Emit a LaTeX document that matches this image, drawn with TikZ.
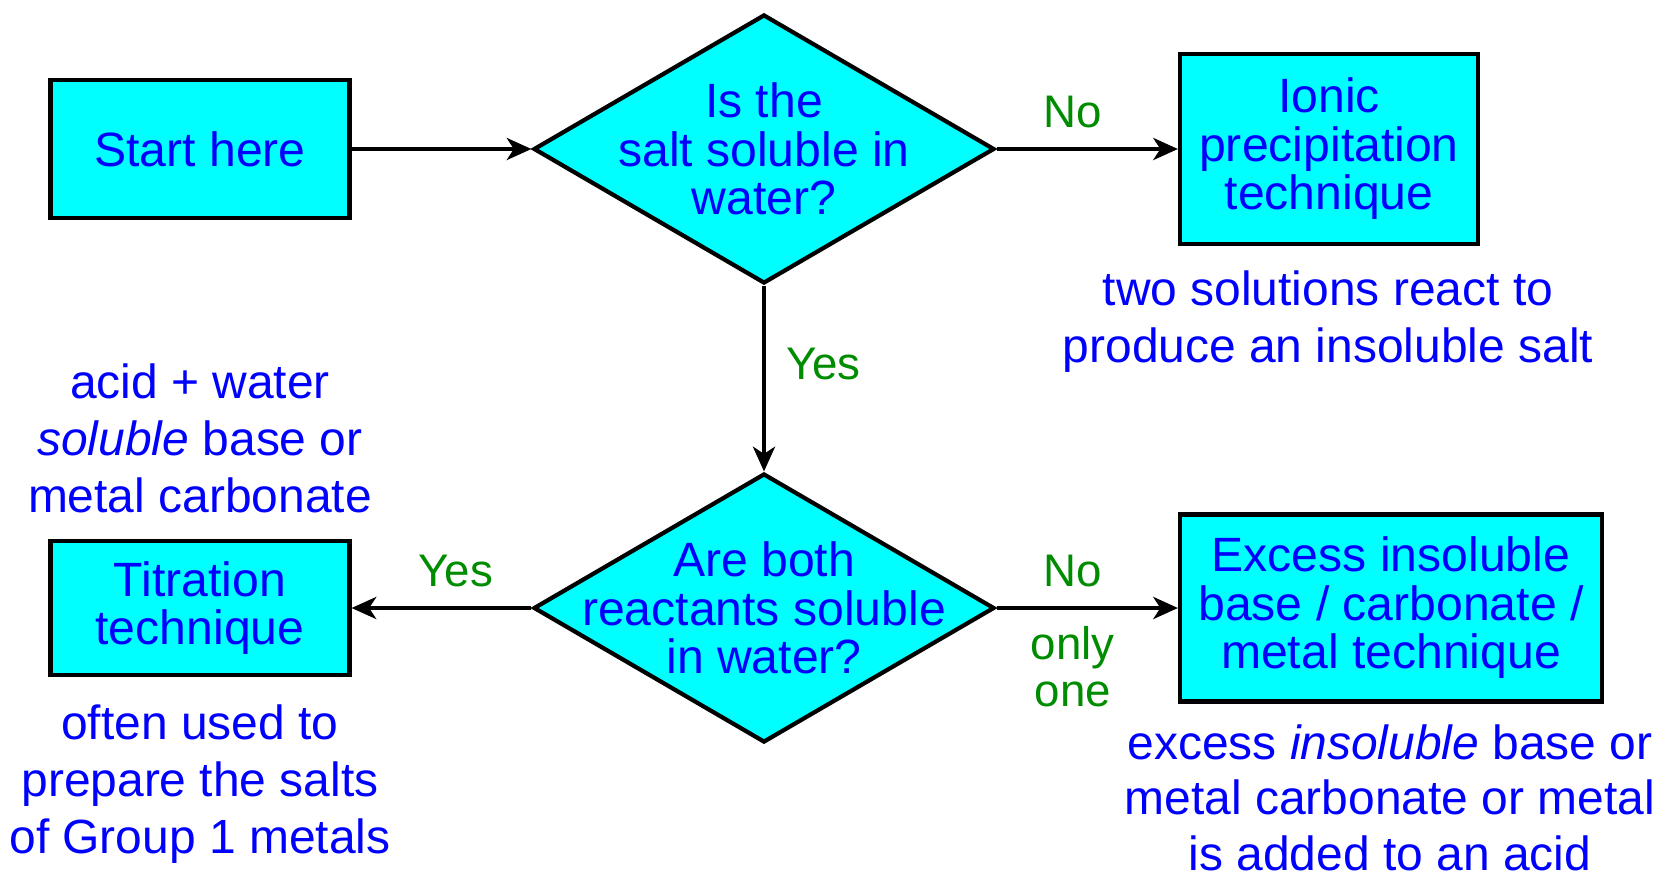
\documentclass[tikz,border=0pt]{standalone}
\usepackage{fontspec}
\setmainfont{Liberation Sans}
\usepackage{tikz}
\usetikzlibrary{positioning, shapes.geometric, arrows.meta}

\definecolor{boxcyan}{RGB}{0,255,255}
\definecolor{textblue}{RGB}{0,0,255}
\definecolor{answergreen}{RGB}{0,140,0}

\begin{document}
\begin{tikzpicture}[x=0.02cm, y=-0.02cm,
    process/.style={draw, line width=2.4pt, fill=boxcyan, text=textblue, align=center, inner sep=0pt, font=\fontsize{27.4}{27.6}\selectfont},
    decision/.style={diamond, draw, line width=2.4pt, fill=boxcyan, text=textblue, align=center, aspect=1.7, inner sep=-1.2cm, minimum width=9.22cm, minimum height=5.38cm, font=\fontsize{27.4}{27.6}\selectfont},
    note/.style={text=textblue, align=center, anchor=north, inner sep=0pt, font=\fontsize{27.3}{32.6}\selectfont},
    answer/.style={text=answergreen, align=center, inner sep=0pt, font=\fontsize{26}{27}\selectfont},
    flow/.style={line width=2.5pt, -{Stealth[length=14pt, width=12.5pt, inset=4pt]}}]
    \useasboundingbox (0,0) rectangle (1659,883);

    % Top row
    \node[process, minimum width=5.98cm, minimum height=2.76cm] (start) at (200,149) {Start here};
    \node[decision] (salt) at (764,149) {Is the\\salt soluble in\\water?};
    \node[process, minimum width=5.96cm, minimum height=3.8cm] (ionic) at (1329,149) {Ionic\\precipitation\\technique};
    \node[note] (ionicnote) at (1328,270) {two solutions react to\\produce an insoluble salt};

    % Bottom row
    \node[decision] (reactants) at (764,608) {Are both\\reactants soluble\\in water?};
    \node[process, minimum width=5.98cm, minimum height=2.68cm] (titration) at (200,608) {Titration\\technique};
    \node[process, minimum width=8.44cm, minimum height=3.74cm] (excess) at (1391,608) {Excess insoluble\\base / carbonate /\\metal technique};
    \node[note] (acidnote) at (200,363) {acid + water\\\textit{soluble} base or\\metal carbonate};
    \node[note] (titrationnote) at (200,704) {often used to\\prepare the salts\\of Group 1 metals};
    \node[note, font=\fontsize{27.3}{31.8}\selectfont] (excessnote) at (1390,724) {excess \textit{insoluble} base or\\metal carbonate or metal\\is added to an acid};

    % Arrows
    \draw[flow] (start) -- (salt);
    \draw[flow] (salt) -- node[answer, pos=0.42, above=0.38cm] {No} (ionic);
    \draw[flow] (salt) -- node[answer, pos=0.42, right=0.4cm] {Yes} (reactants);
    \draw[flow] (reactants) -- node[answer, pos=0.42, above=0.38cm] {Yes} (titration);
    \draw[flow] (reactants) -- node[answer, pos=0.42, above=0.38cm] {No}
        node[answer, pos=0.42, below=0.32cm] {only\\one} (excess);
\end{tikzpicture}
\end{document}
